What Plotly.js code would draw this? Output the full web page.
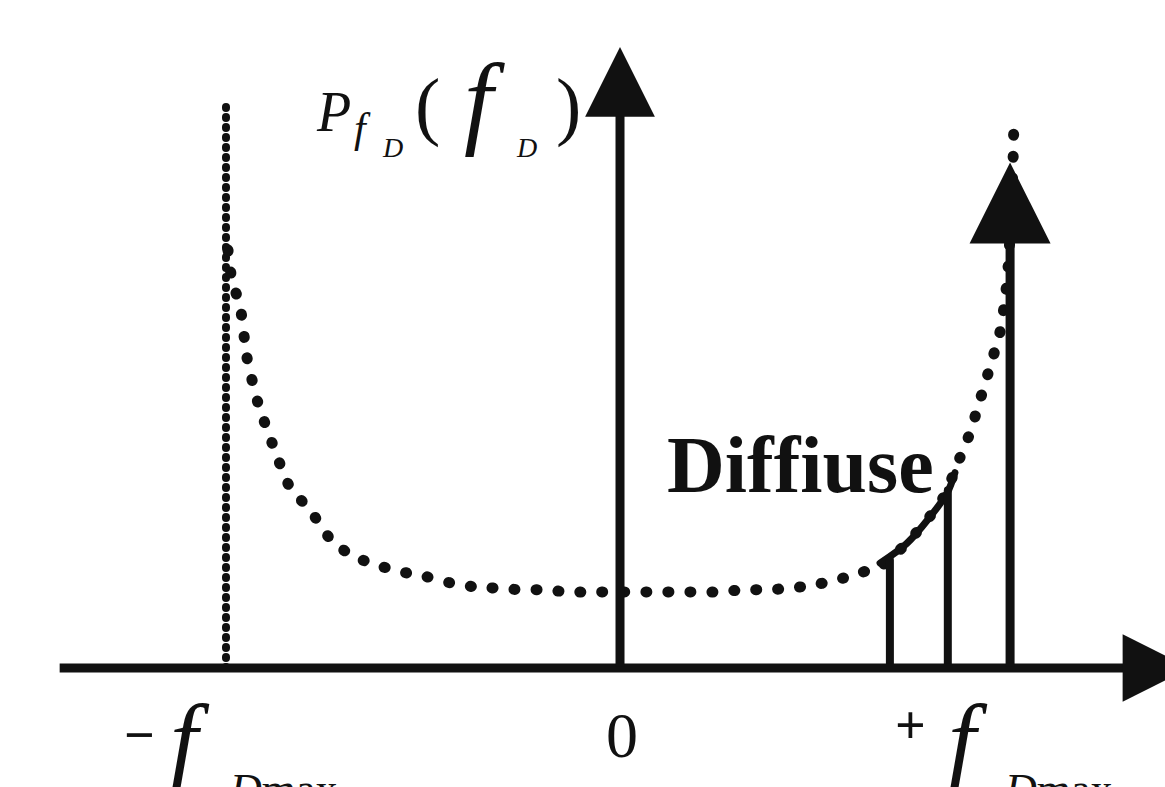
<!DOCTYPE html>
<html>
<head>
<meta charset="utf-8">
<script src="https://cdn.plot.ly/plotly-3.0.1.min.js"></script>
<style>
  html, body { margin: 0; padding: 0; background: #fff; }
  #chart { width: 1165px; height: 787px; }
  /* rounded dots for the dotted spectrum lines */
  #chart .scatterlayer path.js-line { stroke-linecap: round; }
</style>
</head>
<body>
<div id="chart"></div>
<script>
// Doppler power spectrum: U-shaped diffuse part plus a specular line near +f_Dmax.
// Frequencies are normalised to f_Dmax, power to the value at f = 0.

const curveF = [-0.995, -0.985, -0.964, -0.947, -0.919, -0.883, -0.838, -0.787, -0.728, -0.668,
                -0.602, -0.541, -0.490, -0.431, -0.373, -0.312, -0.254, -0.190, -0.132, -0.069,
                 0.000,  0.076,  0.135,  0.195,  0.254,  0.312,  0.376,  0.431,  0.490,  0.551,
                 0.609,  0.668,  0.723,  0.774,  0.825,  0.855,  0.888,  0.914,  0.939,  0.964,
                 0.977,  0.985,  0.992,  0.997,  1.000];
const curveP = [5.50, 5.11, 4.75, 4.09, 3.49, 2.96, 2.38, 2.08, 1.65, 1.45,
                1.33, 1.25, 1.20, 1.12, 1.07, 1.05, 1.03, 1.03, 1.00, 1.00,
                1.00, 1.00, 1.00, 1.00, 1.00, 1.03, 1.03, 1.05, 1.09, 1.16,
                1.25, 1.36, 1.62, 1.91, 2.28, 2.67, 3.09, 3.53, 3.96, 4.41,
                4.84, 5.28, 5.90, 6.55, 7.28];

// highlighted diffuse band and its two bounding lines
const bandF = [0.660, 0.728, 0.787, 0.830, 0.850];
const bandP = [1.38, 1.64, 1.99, 2.30, 2.57];
const bandLineF = [0.685, 0.832];
const bandLineP = [1.42, 2.34];

// band edge at -f_Dmax
const edgeF = [-1.0, -1.0];
const edgeP = [0.0, 7.41];

// specular component
const specF = 0.990;
const specP = 6.65;

// axes extents (f, P)
const xAxisStart = -1.426, xAxisTip = 1.447;
const yAxisTip = 8.17;

const ink = '#111111';
const W = 1165, H = 787;
const px = v => v / W;
const py = v => 1 - v / H;

const traces = [
  {
    x: edgeF, y: edgeP, mode: 'lines', hoverinfo: 'skip',
    line: { color: ink, width: 8, dash: '1px,9px' }
  },
  {
    x: curveF, y: curveP, mode: 'lines', hoverinfo: 'skip',
    line: { color: ink, width: 11, dash: '1px,21px', shape: 'spline', smoothing: 0.6 }
  },
  {
    x: bandF, y: bandP, mode: 'lines', hoverinfo: 'skip',
    line: { color: ink, width: 7, shape: 'spline' }
  }
];
bandLineF.forEach((f, i) => {
  traces.push({
    x: [f, f], y: [0, bandLineP[i]], mode: 'lines', hoverinfo: 'skip',
    line: { color: ink, width: 8 }
  });
});

function arrow(x, y, ax, ay, width, size) {
  return {
    x: x, y: y, ax: ax, ay: ay, xref: 'x', yref: 'y', axref: 'x', ayref: 'y',
    text: '', showarrow: true, arrowhead: 2, arrowwidth: width, arrowsize: size,
    arrowcolor: ink, standoff: 0, startstandoff: 0
  };
}

function label(text, x, y, size, opts) {
  return Object.assign({
    text: text, x: px(x), y: py(y), xref: 'paper', yref: 'paper',
    xanchor: 'center', yanchor: 'middle', showarrow: false,
    font: { family: 'Liberation Serif, DejaVu Serif, serif', size: size, color: ink }
  }, opts || {});
}

const annotations = [
  arrow(xAxisTip, 0, xAxisStart, 0, 9, 1.5),
  arrow(0, yAxisTip, 0, 0, 9, 1.55),
  arrow(specF, specP, specF, 0, 9, 1.8),

  // P_{f_D}(f_D)
  label('<i>P</i>', 333, 112, 56),
  label('<i>f</i>', 362, 128, 42),
  label('<i>D</i>', 392, 148, 28),
  label('(', 427, 105, 76),
  label('<i>f</i>', 485, 100, 104),
  label('<i>D</i>', 526, 148, 28),
  label(')', 568, 105, 76),

  // frequency ticks
  label('<b>\u2212</b>', 139, 735, 54),
  label('<i>f</i>', 190, 740, 100),
  label('<i>D</i>max', 283, 790, 44),
  label('0', 622, 735, 64),
  label('<b>+</b>', 910, 725, 54),
  label('<i>f</i>', 968, 740, 100),
  label('<i>D</i>max', 1058, 790, 44),

  label('<b>Diffiuse</b>', 801, 465, 80)
];

const layout = {
  width: W, height: H,
  margin: { l: 0, r: 0, t: 0, b: 0 },
  paper_bgcolor: '#ffffff', plot_bgcolor: '#ffffff',
  showlegend: false,
  xaxis: { range: [-1.5736, 1.3832], visible: false, fixedrange: true },
  yaxis: { range: [-1.566, 8.789], visible: false, fixedrange: true },
  annotations: annotations
};

Plotly.newPlot('chart', traces, layout, { staticPlot: true });
</script>
</body>
</html>
